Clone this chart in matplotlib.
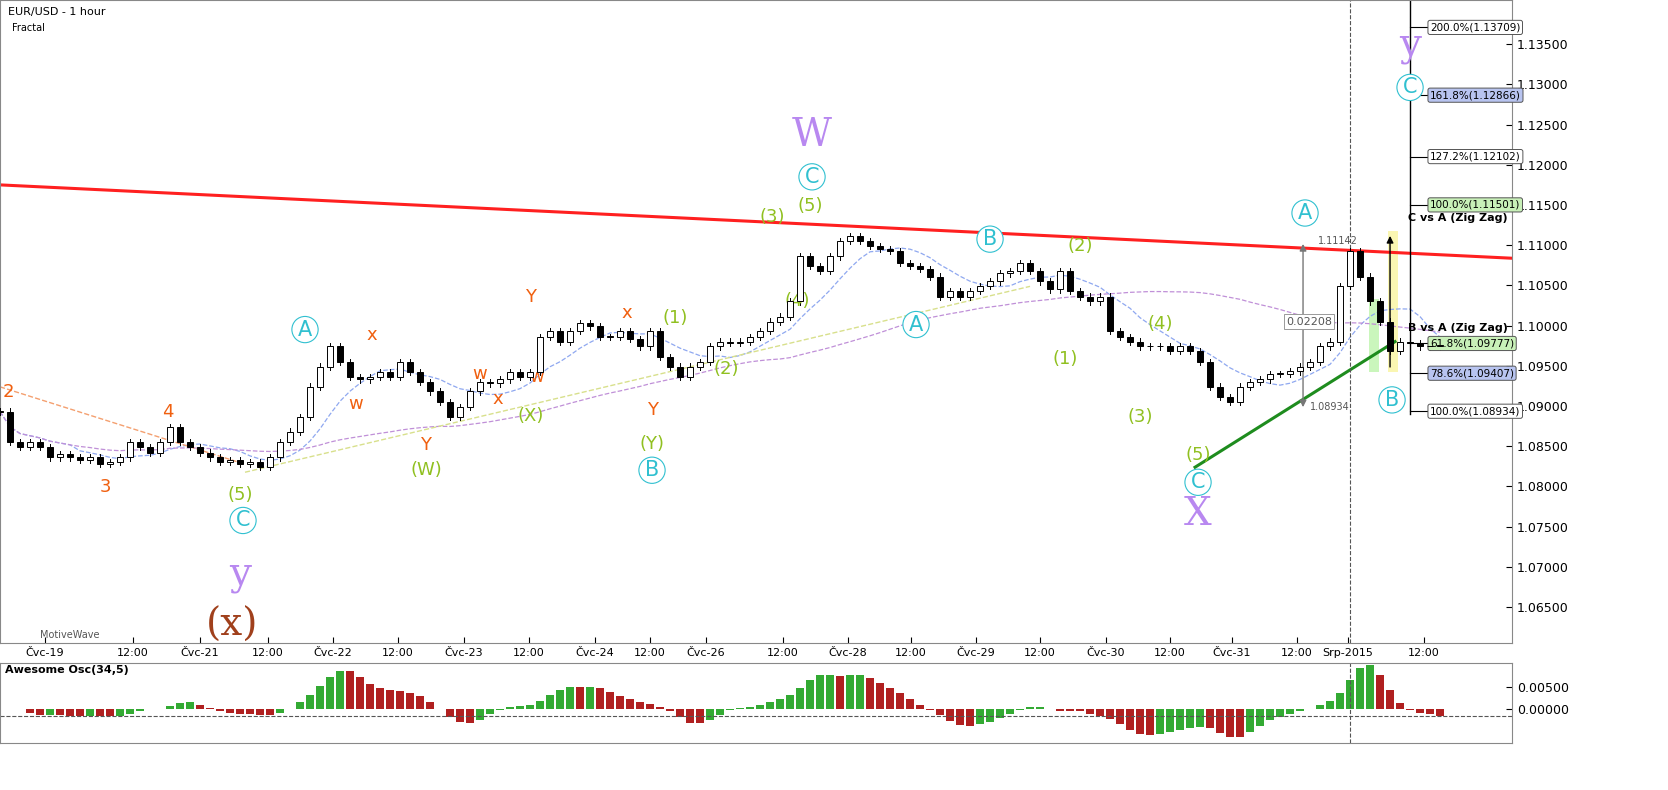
import numpy as np
import pandas as pd
import matplotlib
matplotlib.use("Agg")
import matplotlib.pyplot as plt
from matplotlib.patches import Rectangle

# closes, one every 2 hours
closes = [1.0893, 1.0855, 1.0849, 1.0855, 1.0849, 1.0836, 1.0840, 1.0836, 1.0833, 1.0836,
          1.0828, 1.0830, 1.0836, 1.0855, 1.0849, 1.0842, 1.0855, 1.0874, 1.0855, 1.0849,
          1.0842, 1.0836, 1.0830, 1.0833, 1.0828, 1.0830, 1.0824, 1.0836, 1.0855, 1.0868,
          1.0886, 1.0924, 1.0949, 1.0974, 1.0955, 1.0936, 1.0933, 1.0936, 1.0942, 1.0936,
          1.0955, 1.0942, 1.0930, 1.0918, 1.0905, 1.0886, 1.0899, 1.0918, 1.0930, 1.0928,
          1.0933, 1.0942, 1.0936, 1.0942, 1.0986, 1.0993, 1.0980, 1.0993, 1.1003, 1.0999,
          1.0986, 1.0986, 1.0993, 1.0983, 1.0974, 1.0993, 1.0961, 1.0949, 1.0936, 1.0949,
          1.0955, 1.0974, 1.0980, 1.0978, 1.0980, 1.0986, 1.0993, 1.1005, 1.1011, 1.1030,
          1.1086, 1.1074, 1.1068, 1.1086, 1.1105, 1.1111, 1.1105, 1.1099, 1.1095, 1.1093,
          1.1078, 1.1074, 1.1070, 1.1061, 1.1036, 1.1043, 1.1036, 1.1043, 1.1049, 1.1055,
          1.1065, 1.1068, 1.1078, 1.1068, 1.1055, 1.1045, 1.1068, 1.1043, 1.1036, 1.1030,
          1.1036, 1.0993, 1.0986, 1.0980, 1.0974, 1.0974, 1.0974, 1.0968, 1.0974, 1.0968,
          1.0955, 1.0924, 1.0911, 1.0905, 1.0924, 1.0930, 1.0933, 1.0940, 1.0940, 1.0943,
          1.0949, 1.0955, 1.0974, 1.0980, 1.1049, 1.1093, 1.1061, 1.1030, 1.1005, 1.0968,
          1.0980, 1.0978, 1.0974, 1.0974, 1.0976]

time_labels = ["Čvc-19", "12:00", "Čvc-21", "12:00", "Čvc-22", "12:00", "Čvc-23", "12:00",
               "Čvc-24", "12:00", "Čvc-26", "12:00", "Čvc-28", "12:00", "Čvc-29", "12:00",
               "Čvc-30", "12:00", "Čvc-31", "12:00", "Srp-2015", "12:00"]
time_pos = [4.5, 13.3, 20.0, 26.8, 33.3, 39.8, 46.4, 52.9, 59.5, 65.0, 70.6, 78.3, 84.8,
            91.1, 97.6, 104.0, 110.6, 117.0, 123.2, 129.7, 134.8, 142.4]

fib_pct = ["200.0%", "161.8%", "127.2%", "100.0%", "61.8%", "78.6%", "100.0%"]
fib_val = [1.13709, 1.12866, 1.12102, 1.11501, 1.09777, 1.09407, 1.08934]
fib_face = ["white", "#b8c4f0", "white", "#c8f0b8", "#c8f0b8", "#b8c4f0", "white"]


def P(px, py):
    # chart pixel -> data coords
    return px / 10.0, 1.1405 - py / 8000.0


c = np.array(closes)
n = len(c)
opens = np.r_[c[0], c[:-1]]
idx = np.arange(n)

fig = plt.figure(figsize=(16.68, 7.9), dpi=100)
fig.patch.set_facecolor("white")
ax = fig.add_axes([0.0, 0.186, 0.9065, 0.814])
ao = fig.add_axes([0.0, 0.06, 0.9065, 0.101], sharex=ax)
for a in (ax, ao):
    a.yaxis.tick_right()
    a.tick_params(axis="y", labelsize=9, direction="in", length=4)
    for s in a.spines.values():
        s.set_color("#888888")

# candles
for i in idx:
    o, cl = opens[i], c[i]
    lo, hi = min(o, cl), max(o, cl)
    ax.plot([i, i], [lo - 0.0004, hi + 0.0004], color="black", lw=0.7, zorder=3)
    ax.add_patch(Rectangle((i - 0.3, lo), 0.6, max(hi - lo, 0.00008),
                           facecolor="white" if cl >= o else "black",
                           edgecolor="black", lw=0.7, zorder=4))

# moving averages
s = pd.Series(c)
ax.plot(idx, s.rolling(8, min_periods=1).mean(), color="#8fa8f0", ls="--", lw=0.9)
ax.plot(idx, s.rolling(45, min_periods=1).mean(), color="#c090d8", ls="--", lw=0.9)

# trend lines
ax.plot(*zip(P(0, 184), P(1512, 257)), color="#ff2020", lw=2.2)
ax.plot(*zip(P(1195, 465), P(1395, 340)), color="#1e8c1e", lw=2.2)
ax.plot(*zip(P(245, 470), P(1030, 285)), color="#d8e08c", ls="--", lw=1)
ax.plot(*zip(P(0, 385), P(245, 462)), color="#f4a070", ls="--", lw=1)

# fib tool
ax.plot(*zip(P(1410, 0), P(1410, 412)), color="black", lw=1)
for pct, v, fc in zip(fib_pct, fib_val, fib_face):
    ax.plot([141.0, 142.8], [v, v], color="black", lw=0.8)
    ax.text(143.0, v, f"{pct}({v:.5f})", fontsize=7.5, va="center",
            bbox=dict(boxstyle="round,pad=0.2", fc=fc, ec="#555555", lw=0.7))
ax.text(150.8, 1.1130, "C vs A (Zig Zag)", fontsize=8, weight="bold", ha="right")
ax.text(150.8, 1.0993, "B vs A (Zig Zag)", fontsize=8, weight="bold", ha="right")
ax.add_patch(Rectangle(P(1388, 370), 1.0, 140 / 8000, fc="#f8f080", alpha=0.6, ec="none"))
ax.add_patch(Rectangle(P(1369, 370), 1.0, 72 / 8000, fc="#a8f090", alpha=0.6, ec="none"))
ax.annotate("", xy=P(1390, 232), xytext=P(1390, 368),
            arrowprops=dict(arrowstyle="-|>", color="black", lw=1))
ax.annotate("", xy=P(1303, 240), xytext=P(1303, 408),
            arrowprops=dict(arrowstyle="<|-|>", color="#777777", lw=1))
ax.text(*P(1318, 240), "1.11142", fontsize=7, color="#555555", va="center")
ax.text(*P(1310, 405), "1.08934", fontsize=7, color="#555555", va="center")
ax.text(*P(1286, 323), "0.02208", fontsize=8, color="#555555",
        bbox=dict(fc="white", ec="#999999", lw=0.7, pad=1.5))
ax.axvline(135.0, color="#555555", ls="--", lw=0.8)

# wave labels
purple = "#b888f0"
for px, py, t, fs in [(812, 135, "W", 28), (240, 572, "y", 28), (1198, 512, "X", 28),
                      (1410, 45, "y", 28)]:
    ax.text(*P(px, py), t, color=purple, fontsize=fs, ha="center", va="center", family="serif")
ax.text(*P(232, 622), "(x)", color="#a0401c", fontsize=28, ha="center", va="center",
        family="serif")
for px, py, t in [(305, 328, "A"), (243, 518, "C"), (652, 468, "B"), (812, 176, "C"),
                  (916, 323, "A"), (990, 238, "B"), (1198, 480, "C"), (1305, 212, "A"),
                  (1410, 87, "C"), (1392, 398, "B")]:
    ax.text(*P(px, py), t, color="#30c0d0", fontsize=15, ha="center", va="center",
            bbox=dict(boxstyle="circle,pad=0.15", fc="white", ec="#30c0d0", lw=0.8))
green = "#90c020"
for px, py, t in [(240, 493, "(5)"), (426, 468, "(W)"), (531, 414, "(X)"), (652, 442, "(Y)"),
                  (675, 316, "(1)"), (726, 367, "(2)"), (772, 216, "(3)"), (797, 300, "(4)"),
                  (810, 205, "(5)"), (1080, 245, "(2)"), (1065, 357, "(1)"), (1160, 322, "(4)"),
                  (1140, 415, "(3)"), (1198, 453, "(5)")]:
    ax.text(*P(px, py), t, color=green, fontsize=13, ha="center", va="center")
orange = "#f06010"
for px, py, t in [(8, 390, "2"), (105, 485, "3"), (168, 410, "4"), (372, 333, "x"),
                  (356, 402, "w"), (426, 443, "Y"), (480, 372, "w"), (498, 397, "x"),
                  (531, 296, "Y"), (537, 375, "w"), (627, 312, "x"), (652, 408, "Y")]:
    ax.text(*P(px, py), t, color=orange, fontsize=13, ha="center", va="center")

ax.text(*P(8, 12), "EUR/USD - 1 hour", fontsize=8, va="center")
ax.text(*P(12, 28), "Fractal", fontsize=7, va="center")
ax.text(*P(40, 632), "MotiveWave", fontsize=7, color="#555555", va="center")

ax.set_xlim(0, 151.2)
ax.set_ylim(1.0605, 1.1405)
ax.set_yticks(np.arange(1.065, 1.1351, 0.005))
ax.yaxis.set_major_formatter(matplotlib.ticker.FormatStrFormatter("%.5f"))
ax.set_xticks(time_pos)
ax.set_xticklabels(time_labels)
ax.tick_params(axis="x", labelsize=8, direction="in", length=4)
ax.xaxis.set_tick_params(labelbottom=True)

# Awesome oscillator from median of candles
med = pd.Series((opens + c) / 2)
aov = (med.rolling(3, min_periods=1).mean() - med.rolling(17, min_periods=1).mean()).values
col = np.where(np.r_[True, np.diff(aov) >= 0], "#33aa33", "#b02020")
ao.bar(idx, aov, width=0.8, color=col)
ao.axhline(aov[-1], color="#555555", ls="--", lw=0.8)
ao.axvline(135.0, color="#555555", ls="--", lw=0.8)
ao.set_ylim(-0.0075, 0.0105)
ao.set_yticks([0.005, 0.0])
ao.yaxis.set_major_formatter(matplotlib.ticker.FormatStrFormatter("%.5f"))
ao.text(0.5, 0.0088, "Awesome Osc(34,5)", fontsize=8, weight="bold", va="center")
plt.setp(ao.get_xticklabels(), visible=False)
ao.tick_params(axis="x", length=0)

fig.savefig("out.png", dpi=100)
